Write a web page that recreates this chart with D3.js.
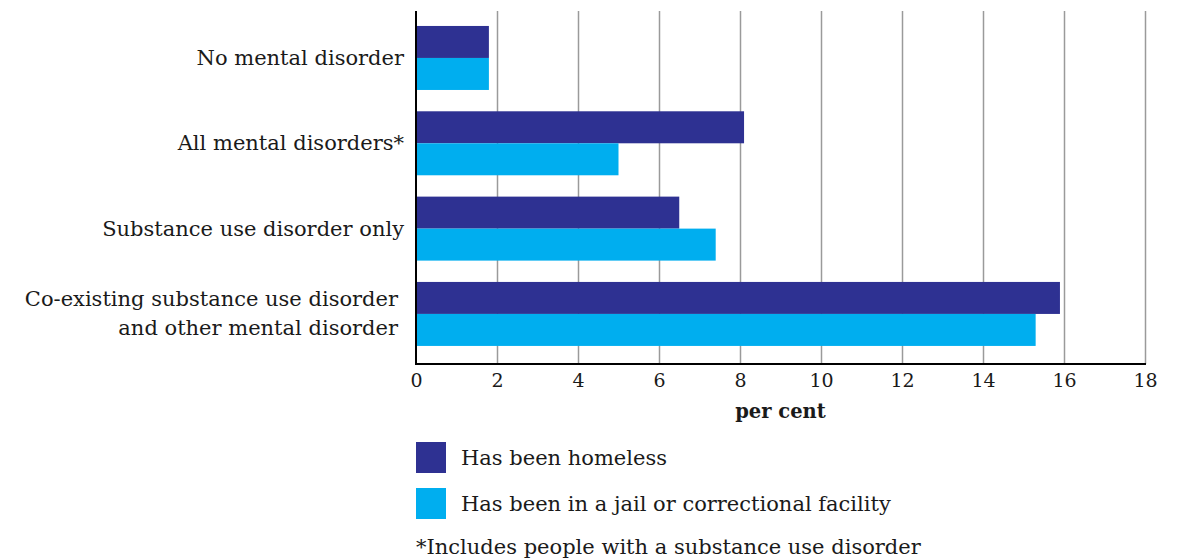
<!DOCTYPE html>
<html>
<head>
<meta charset="utf-8">
<script src="https://cdn.jsdelivr.net/npm/d3@7"></script>
<style>
body { margin: 0; background: #fff; }
text { font-family: "DejaVu Serif", serif; fill: #1a1a1a; }
</style>
</head>
<body>
<div id="chart"></div>
<script>
// data
var categories = [
	["No mental disorder"],
	["All mental disorders*"],
	["Substance use disorder only"],
	["Co-existing substance use disorder", "and other mental disorder"]
];
var seriesNames = ["Has been homeless", "Has been in a jail or correctional facility"];
var homeless = [1.8, 8.1, 6.5, 15.9];
var jail = [1.8, 5.0, 7.4, 15.3];
var xTicks = [0, 2, 4, 6, 8, 10, 12, 14, 16, 18];
var colors = ["#2e3192", "#00aeef"];
var footnote = "*Includes people with a substance use disorder";

var width = 1182, height = 559;
var plotLeft = 416, plotRight = 1145, plotTop = 11, plotBottom = 364;
var labelSize = 21;

var svg = d3.select("#chart")
	.append("svg")
	.attr("width", width)
	.attr("height", height);

var x = d3.scaleLinear()
	.domain([0, 18])
	.range([plotLeft, plotRight]);

var y = d3.scaleBand()
	.domain(d3.range(categories.length))
	.range([15.3, 356.6])
	.paddingInner(0.25)
	.paddingOuter(0.125);

var sub = d3.scaleBand()
	.domain([0, 1])
	.range([0, y.bandwidth()]);

// grid lines
svg.append("g")
	.attr("class", "grid")
	.attr("transform", `translate(0,${plotBottom})`)
	.call(d3.axisBottom(x).tickValues(xTicks.slice(1)).tickSize(-(plotBottom - plotTop)).tickFormat(""))
	.call(g => g.select(".domain").remove())
	.call(g => g.selectAll("line").attr("stroke", "#9a9a9a").attr("stroke-width", 1.5));

// bars
var groups = svg.selectAll(".group")
	.data(categories)
	.enter().append("g")
	.attr("class", "group")
	.attr("transform", (d, i) => `translate(0,${y(i)})`);

[homeless, jail].forEach(function(values, s) {
	groups.append("rect")
		.attr("x", x(0))
		.attr("y", sub(s))
		.attr("width", (d, i) => x(values[i]) - x(0))
		.attr("height", sub.bandwidth())
		.attr("fill", colors[s]);
});

// category labels
groups.each(function(d, i) {
	var lines = d;
	var t = d3.select(this).append("text")
		.attr("text-anchor", "end")
		.attr("font-size", labelSize);
	var cy = y.bandwidth() / 2;
	var lh = 29;
	lines.forEach(function(line, k) {
		t.append("tspan")
			.attr("x", lines.length > 1 ? x(0) - 18 : x(0) - 12)
			.attr("y", cy + 7 + (k - (lines.length - 1) / 2) * lh)
			.text(line);
	});
});

// x axis
var xAxis = svg.append("g")
	.attr("transform", `translate(0,${plotBottom})`)
	.call(d3.axisBottom(x).tickValues(xTicks).tickSize(0).tickPadding(10));
xAxis.select(".domain").remove();
xAxis.selectAll("text")
	.attr("font-size", 19)
	.attr("font-family", "DejaVu Serif, serif")
	.attr("fill", "#1a1a1a");

svg.append("line")
	.attr("x1", x(0) - 1).attr("x2", plotRight + 1)
	.attr("y1", plotBottom).attr("y2", plotBottom)
	.attr("stroke", "#000").attr("stroke-width", 2);
svg.append("line")
	.attr("x1", x(0)).attr("x2", x(0))
	.attr("y1", plotTop).attr("y2", plotBottom)
	.attr("stroke", "#000").attr("stroke-width", 2);

svg.append("text")
	.attr("x", (x(0) + x(18)) / 2)
	.attr("y", 418)
	.attr("text-anchor", "middle")
	.attr("font-size", 19.5)
	.attr("font-weight", "bold")
	.text("per cent");

// legend
var legend = svg.selectAll(".legend")
	.data(seriesNames)
	.enter().append("g")
	.attr("class", "legend")
	.attr("transform", (d, i) => `translate(${x(0)},${442 + i * 46})`);
legend.append("rect")
	.attr("width", 30).attr("height", 31)
	.attr("fill", (d, i) => colors[i]);
legend.append("text")
	.attr("x", 45).attr("y", 23)
	.attr("font-size", labelSize)
	.text(d => d);

svg.append("text")
	.attr("x", x(0))
	.attr("y", 554)
	.attr("font-size", labelSize)
	.text(footnote);
</script>
</body>
</html>
